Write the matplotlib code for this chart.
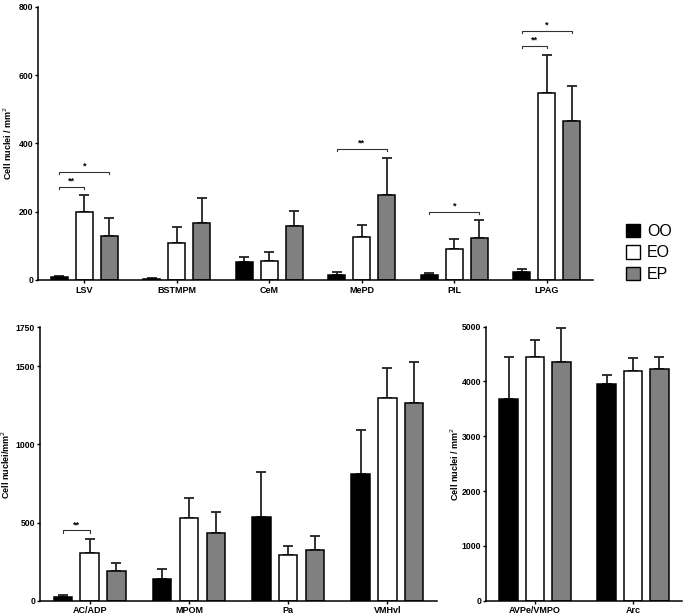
import numpy as np
import matplotlib
matplotlib.use('Agg')
import matplotlib.pyplot as plt
from matplotlib.patches import Patch

plt.rcParams['font.family'] = ['Liberation Sans', 'DejaVu Sans']

groups = ['OO', 'EO', 'EP']
colors = ['black', 'white', '#808080']

# top panel
top_regions = ['LSV', 'BSTMPM', 'CeM', 'MePD', 'PIL', 'LPAG']
top_oo = [8, 4, 52, 14, 15, 22]
top_oo_err = [3, 3, 15, 8, 6, 10]
top_eo = [198, 108, 56, 125, 92, 547]
top_eo_err = [50, 47, 26, 35, 28, 113]
top_ep = [128, 166, 158, 249, 124, 467]
top_ep_err = [54, 74, 45, 109, 51, 100]
# (region index, target group, bracket height, label)
top_sig = [(0, 1, 272, '**'), (0, 2, 317, '*'), (3, 2, 383, '**'),
           (4, 2, 200, '*'), (5, 1, 686, '**'), (5, 2, 731, '*')]

# bottom left panel
bl_regions = ['AC/ADP', 'MPOM', 'Pa', 'VMHvl']
bl_oo = [25, 137, 538, 813]
bl_oo_err = [11, 68, 288, 277]
bl_eo = [303, 531, 290, 1297]
bl_eo_err = [94, 126, 60, 190]
bl_ep = [190, 435, 324, 1263]
bl_ep_err = [49, 135, 88, 265]
bl_sig = [(0, 1, 450, '**')]

# bottom right panel
br_regions = ['AVPe/VMPO', 'Arc']
br_oo = [3674, 3954]
br_oo_err = [779, 158]
br_eo = [4440, 4191]
br_eo_err = [311, 237]
br_ep = [4355, 4221]
br_ep_err = [627, 219]


def draw_panel(ax, regions, vals, errs, ymax, yticks, ylabel, sig, tick_h, lab_x):
    x = np.arange(len(regions)) + 0.5
    offs = [-0.27, 0, 0.27]
    for k in range(3):
        ax.bar(x + offs[k], vals[k], width=0.185, color=colors[k],
               edgecolor='black', linewidth=1.1, zorder=2)
        ax.errorbar(x + offs[k], vals[k], yerr=[np.zeros(len(regions)), errs[k]],
                    fmt='none', ecolor='#222222', elinewidth=1.3, capsize=3.5,
                    capthick=1.3, zorder=1)
    for (i, t, h, lab) in sig:
        x0 = x[i] + offs[0]
        x1 = x[i] + offs[t]
        ax.plot([x0, x0, x1, x1], [h - tick_h, h, h, h - tick_h],
                color='#333333', lw=0.8)
        ax.text((x0 + x1) / 2, h + tick_h * 0.6, lab, ha='center', va='bottom',
                fontsize=6.5, fontweight='bold')
    ax.set_xlim(0, len(regions))
    ax.set_ylim(0, ymax)
    ax.set_yticks(yticks)
    ax.set_xticks(x)
    ax.set_xticklabels(regions, fontsize=6.5, fontweight='bold')
    ax.tick_params(axis='x', length=2.5, width=1, pad=1.5)
    ax.tick_params(axis='y', length=2.5, width=1, labelsize=6.2, pad=1)
    for lab in ax.get_yticklabels():
        lab.set_fontweight('bold')
    ax.spines['top'].set_visible(False)
    ax.spines['right'].set_visible(False)
    ax.spines['left'].set_linewidth(1.1)
    ax.spines['bottom'].set_linewidth(1.1)
    ax.set_ylabel(ylabel, fontsize=6.5, fontweight='bold')
    ax.yaxis.set_label_coords(lab_x, 0.5)


fig = plt.figure(figsize=(6.85, 6.16), dpi=100)

ax1 = fig.add_axes([0.0555, 0.5455, 0.8102, 0.4432])
draw_panel(ax1, top_regions, [top_oo, top_eo, top_ep],
           [top_oo_err, top_eo_err, top_ep_err], 800, [0, 200, 400, 600, 800],
           'Cell nuclei / mm$^2$', top_sig, 6, -0.043)

ax2 = fig.add_axes([0.0584, 0.0248, 0.5796, 0.4439])
draw_panel(ax2, bl_regions, [bl_oo, bl_eo, bl_ep],
           [bl_oo_err, bl_eo_err, bl_ep_err], 1750, [0, 500, 1000, 1500, 1750],
           'Cell nuclei/mm$^2$', bl_sig, 14, -0.07)

ax3 = fig.add_axes([0.7095, 0.0248, 0.2861, 0.4450])
draw_panel(ax3, br_regions, [br_oo, br_eo, br_ep],
           [br_oo_err, br_eo_err, br_ep_err], 5000,
           [0, 1000, 2000, 3000, 4000, 5000], 'Cell nuclei / mm$^2$', [], 40, -0.128)

handles = [Patch(facecolor=c, edgecolor='black', linewidth=1) for c in colors]
fig.legend(handles, groups, loc='upper left', bbox_to_anchor=(0.893, 0.66),
           frameon=False, fontsize=11.5, handlelength=0.9, handleheight=0.9,
           handletextpad=0.4, labelspacing=0.4)

fig.savefig('out.png', dpi=100)
